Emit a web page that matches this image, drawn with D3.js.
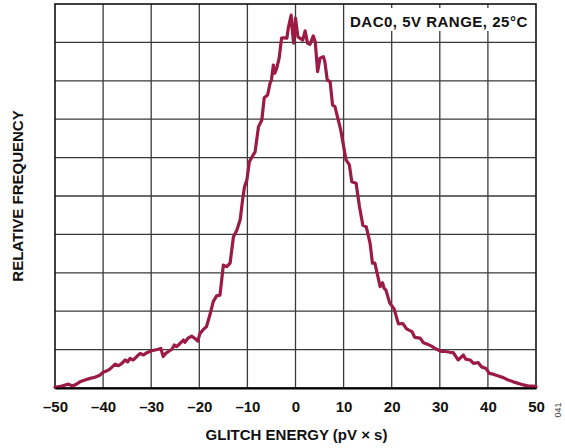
<!DOCTYPE html>
<html>
<head>
<meta charset="utf-8">
<script src="https://cdn.jsdelivr.net/npm/d3@7"></script>
<style>
  html, body { margin: 0; padding: 0; background: #fff; }
  svg { display: block; font-family: "Liberation Sans", Arial, sans-serif; }
</style>
</head>
<body>
<svg id="chart" width="565" height="448"></svg>
<script>
// ---- data ----
const glitchEnergy = [
  -50.0,-48.6,-47.2,-46.5,-45.8,-44.8,-43.8,-42.7,-41.7,-40.6,
  -40.0,-39.3,-38.6,-37.5,-36.8,-36.1,-35.4,-34.9,-34.4,-33.7,
  -33.0,-32.3,-31.6,-30.9,-29.9,-29.2,-28.5,-28.0,-27.5,-27.0,
  -26.4,-25.7,-25.2,-24.7,-24.0,-23.3,-23.0,-22.4,-21.6,-20.9,
  -20.3,-19.9,-19.2,-18.5,-17.8,-17.1,-16.4,-15.7,-15.0,-14.3,
  -13.6,-12.9,-12.2,-11.5,-11.0,-10.6,-10.1,-9.6,-8.8,-8.4,
  -7.7,-7.0,-6.5,-5.8,-5.3,-5.0,-4.6,-4.3,-3.9,-3.4,
  -2.9,-2.5,-1.8,-1.5,-0.9,-0.7,-0.4,0.0,0.5,0.9,
  1.5,2.0,2.5,3.0,3.7,4.1,4.6,5.1,5.8,6.1,
  6.6,7.2,7.7,8.2,9.4,9.9,10.5,11.2,11.7,12.6,
  13.3,14.0,14.7,15.5,16.0,16.5,17.6,18.1,18.4,18.8,
  19.6,20.5,21.4,22.3,23.1,24.2,24.8,25.9,26.6,27.6,
  28.3,29.0,29.7,30.4,31.1,32.1,32.8,33.8,34.6,34.9,
  35.4,36.3,37.0,38.0,38.7,39.6,40.3,41.1,42.2,43.2,
  44.2,45.3,46.3,47.4,48.4,49.4,50.0
];
const relativeFrequency = [
  0.2,0.5,1.0,0.6,0.8,1.6,2.1,2.5,2.8,3.4,
  4.1,4.4,4.9,6.2,5.8,6.4,7.3,6.8,7.7,7.3,
  8.2,9.0,8.6,9.2,9.7,9.9,10.1,10.3,8.2,9.0,
  9.5,10.1,11.2,10.8,11.6,12.5,11.9,12.9,13.5,12.9,
  12.2,14.1,15.2,16.0,19.0,22.5,24.0,24.2,32.0,31.6,
  32.5,39.4,41.1,43.8,49.0,52.4,54.2,58.9,60.7,61.5,
  68.0,69.8,75.6,76.3,79.3,80.2,84.1,82.0,83.3,85.9,
  91.1,91.2,91.1,93.7,97.1,93.7,89.8,96.3,91.5,91.1,
  90.6,93.0,89.8,89.5,91.7,90.2,82.4,85.9,86.3,85.0,
  80.2,79.8,73.7,73.3,67.2,63.7,59.4,58.1,53.7,53.3,
  47.2,42.4,42.0,37.7,32.5,32.5,26.4,27.4,26.0,25.5,
  22.1,20.6,16.7,16.8,15.4,14.7,13.2,13.0,11.8,11.3,
  10.9,10.3,9.9,9.5,9.5,9.3,9.2,7.3,8.2,8.6,
  7.5,7.3,6.4,6.6,5.5,5.1,3.8,3.6,3.1,2.7,
  2.1,1.6,1.2,0.8,0.5,0.5,0.3
];
const xTicks = [-50,-40,-30,-20,-10,0,10,20,30,40,50];
const yGrid = [0,10,20,30,40,50,60,70,80,90,100];
const xTitle = "GLITCH ENERGY (pV × s)";
const yTitle = "RELATIVE FREQUENCY";
const annotation = "DAC0, 5V RANGE, 25°C";
const figureId = "041";

// ---- layout ----
const W = 565, H = 448;
const margin = {left: 55, top: 4, right: 29, bottom: 60};
const pw = W - margin.left - margin.right;
const ph = H - margin.top - margin.bottom;
const lineColor = "#9b1b45";

const svg = d3.select("#chart");
const g = svg.append("g").attr("transform", `translate(${margin.left},${margin.top})`);

const x = d3.scaleLinear().domain([-50, 50]).range([0, pw]);
const y = d3.scaleLinear().domain([0, 100]).range([ph, 0]);

// grid
g.append("g").selectAll("line").data(xTicks.slice(1, -1)).join("line")
  .attr("x1", d => x(d)).attr("x2", d => x(d))
  .attr("y1", 0).attr("y2", ph)
  .attr("stroke", "#3a3a3a").attr("stroke-width", 1.3);
g.append("g").selectAll("line").data(yGrid.slice(1, -1)).join("line")
  .attr("x1", 0).attr("x2", pw)
  .attr("y1", d => y(d)).attr("y2", d => y(d))
  .attr("stroke", "#3a3a3a").attr("stroke-width", 1.3);

// frame
g.append("rect").attr("x", 0).attr("y", 0).attr("width", pw).attr("height", ph)
  .attr("fill", "none").attr("stroke", "#111").attr("stroke-width", 1.6);

// annotation box (top-right corner of the plot)
const annG = g.append("g");
annG.append("rect").attr("x", pw - 189).attr("y", 4).attr("width", 187).attr("height", 23)
  .attr("fill", "#fff");
annG.append("text").attr("x", pw - 186).attr("y", 23)
  .attr("font-size", 15).attr("font-weight", "bold").attr("letter-spacing", 0.5)
  .attr("fill", "#111").text(annotation);

// data line
const pts = glitchEnergy.map((v, i) => [v, relativeFrequency[i]]);
g.append("path").datum(pts)
  .attr("fill", "none").attr("stroke", lineColor).attr("stroke-width", 3.2)
  .attr("stroke-linejoin", "round").attr("stroke-linecap", "round")
  .attr("d", d3.line().x(d => x(d[0])).y(d => y(d[1])));

// x axis
const xAxis = d3.axisBottom(x).tickValues(xTicks).tickSize(0).tickPadding(13)
  .tickFormat(d => d < 0 ? "\u2013" + Math.abs(d) : String(d));
const ax = g.append("g").attr("transform", `translate(0,${ph})`).call(xAxis);
ax.select(".domain").attr("stroke", "#000").attr("stroke-width", 2.2);
ax.selectAll("text").attr("font-size", 15).attr("font-weight", "bold")
  .attr("fill", "#111").attr("font-family", "Liberation Sans, Arial, sans-serif");

// titles
svg.append("text").attr("x", margin.left + pw / 2 + 1).attr("y", 440)
  .attr("text-anchor", "middle").attr("font-size", 15).attr("font-weight", "bold")
  .attr("fill", "#111").text(xTitle);
svg.append("text").attr("transform", `translate(23,${margin.top + ph / 2}) rotate(-90)`)
  .attr("text-anchor", "middle").attr("font-size", 15).attr("font-weight", "bold")
  .attr("fill", "#111").text(yTitle);
svg.append("text").attr("transform", `translate(561,410) rotate(-90)`)
  .attr("text-anchor", "middle").attr("font-size", 9)
  .attr("fill", "#444").text(figureId);
</script>
</body>
</html>
